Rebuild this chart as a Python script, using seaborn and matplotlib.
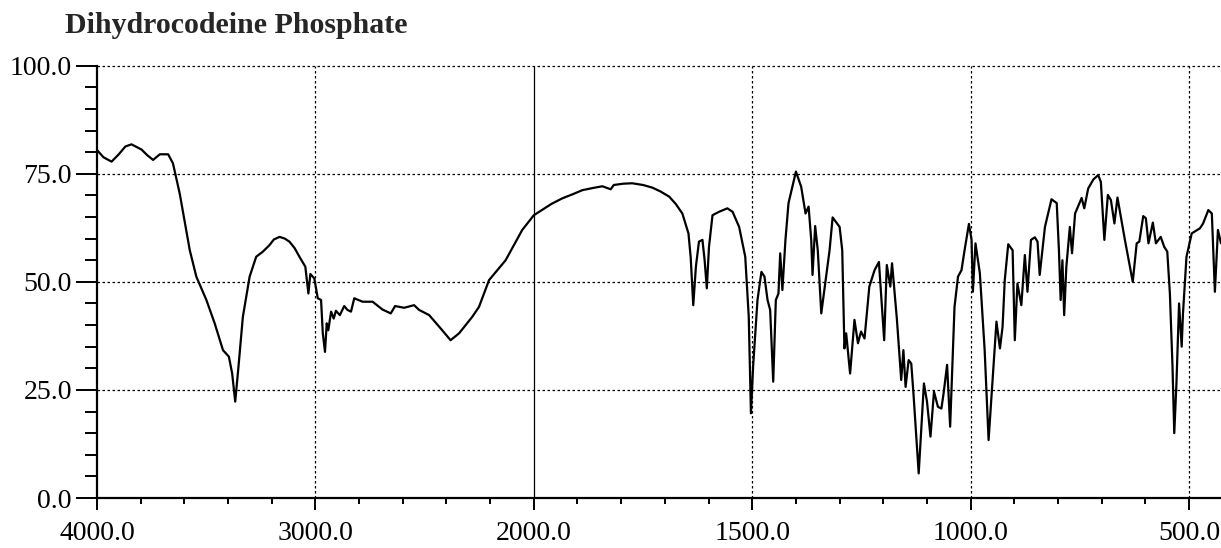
import numpy as np
import pandas as pd
import matplotlib
matplotlib.use('Agg')
import matplotlib.pyplot as plt
import seaborn as sns
from matplotlib.ticker import FixedLocator, FuncFormatter

# IR spectrum: wavenumber (cm-1) and transmittance (%)
wavenumber = [
    4000, 3970, 3933, 3900, 3870, 3842, 3796, 3770, 3743, 3712, 3674, 3652,
    3621, 3575, 3545, 3499, 3461, 3423, 3396, 3381, 3367, 3352, 3332, 3301,
    3271, 3240, 3210, 3190, 3164, 3140, 3119, 3095, 3073, 3046, 3032, 3023,
    3005, 2989, 2974, 2966, 2956, 2948, 2941, 2928, 2916, 2906, 2888, 2868,
    2853, 2837, 2822, 2784, 2738, 2693, 2655, 2635, 2594, 2548, 2525, 2479,
    2426, 2381, 2342, 2282, 2251, 2205, 2129, 2053, 2000, 1960, 1935, 1910,
    1889, 1865, 1843, 1824, 1817, 1795, 1775, 1750, 1729, 1710, 1690, 1675,
    1660, 1646, 1641, 1635, 1629, 1622, 1614, 1609, 1604, 1599, 1591, 1576,
    1557, 1545, 1530, 1516, 1508, 1503, 1498, 1488, 1479, 1472, 1465, 1459,
    1452, 1446, 1440, 1436, 1431, 1424, 1417, 1400, 1388, 1378, 1371, 1365,
    1362, 1356, 1350, 1342, 1335, 1323, 1316, 1300, 1294, 1289, 1285, 1276,
    1266, 1258, 1251, 1243, 1232, 1220, 1210, 1198, 1192, 1184, 1180, 1169,
    1159, 1154, 1149, 1142, 1136, 1131, 1119, 1107, 1100, 1092, 1084, 1075,
    1067, 1062, 1054, 1047, 1037, 1029, 1021, 1014, 1004, 998, 995, 989,
    979, 968, 959, 949, 941, 933, 927, 922, 914, 904, 899, 893,
    884, 876, 870, 862, 853, 847, 842, 830, 815, 803, 798, 794,
    790, 786, 781, 773, 768, 761, 746, 740, 731, 719, 708, 702,
    694, 686, 679, 671, 664, 647, 629, 620, 614, 605, 599, 593,
    583, 576, 565, 557, 550, 544, 538, 534, 529, 523, 517, 514,
    506, 494, 475, 468, 456, 448, 441, 434, 427,
]
transmittance = [
    80.5, 78.8, 77.8, 79.5, 81.3, 81.8, 80.6, 79.3, 78.2, 79.5, 79.5, 77.4,
    70.4, 57.3, 51.2, 45.8, 40.4, 34.2, 32.7, 28.8, 22.3, 30.4, 41.9, 51.2,
    55.8, 57.0, 58.5, 59.8, 60.4, 60.0, 59.3, 57.8, 55.8, 53.5, 47.3, 51.8,
    50.8, 46.2, 45.8, 38.1, 33.8, 40.4, 38.8, 43.1, 41.5, 43.3, 42.3, 44.4,
    43.5, 43.1, 46.2, 45.4, 45.4, 43.6, 42.7, 44.4, 44.0, 44.6, 43.5, 42.3,
    39.2, 36.5, 38.1, 41.9, 44.2, 50.4, 55.0, 62.0, 65.4, 68.0, 69.3, 70.3,
    71.2, 71.7, 72.1, 71.4, 72.4, 72.7, 72.8, 72.4, 71.8, 70.9, 69.7, 68.0,
    65.8, 61.2, 55.8, 44.6, 53.5, 59.3, 59.7, 55.0, 48.5, 58.1, 65.4, 66.2,
    67.0, 66.2, 62.7, 55.8, 41.9, 19.6, 30.4, 45.8, 52.3, 51.2, 45.8, 43.5,
    26.9, 45.8, 47.3, 56.6, 48.1, 59.7, 68.2, 75.5, 72.0, 65.8, 67.4, 59.7,
    51.6, 62.9, 57.3, 42.7, 48.1, 57.3, 64.9, 62.7, 57.3, 34.6, 38.1, 28.8,
    41.2, 35.8, 38.5, 36.9, 48.9, 52.7, 54.6, 36.5, 53.9, 48.9, 54.3, 41.5,
    27.3, 34.2, 25.7, 31.9, 31.1, 24.2, 5.7, 26.5, 22.3, 14.2, 24.6, 21.1,
    20.7, 24.2, 30.8, 16.5, 44.2, 51.2, 52.7, 57.3, 63.4, 59.7, 47.7, 58.9,
    52.0, 34.2, 13.4, 28.8, 40.8, 34.6, 39.6, 50.4, 58.7, 57.3, 36.5, 49.6,
    44.6, 56.2, 47.7, 59.7, 60.3, 59.3, 51.6, 62.7, 69.1, 68.2, 57.3, 45.8,
    55.0, 42.3, 53.5, 62.7, 56.6, 65.8, 69.4, 67.0, 71.6, 73.7, 74.7, 73.1,
    59.7, 70.1, 68.9, 63.5, 69.5, 59.7, 50.0, 58.9, 59.3, 65.2, 64.7, 58.9,
    63.7, 58.9, 60.4, 58.1, 57.0, 47.3, 30.4, 15.0, 26.5, 45.0, 35.0, 42.7,
    55.8, 61.2, 62.4, 63.5, 66.6, 65.8, 47.7, 62.0, 58.9,
]

x_major = [4000, 3000, 2000, 1500, 1000, 500]
y_major = [0, 25, 50, 75, 100]
title = 'Dihydrocodeine Phosphate'

df = pd.DataFrame({'wavenumber': wavenumber, 'transmittance': transmittance})

# the x scale doubles below 2000 cm-1
def fwd(w):
    w = np.asarray(w, dtype=float)
    return np.where(w >= 2000, w, 2 * w - 2000)

def inv(u):
    u = np.asarray(u, dtype=float)
    return np.where(u >= 2000, u, (u + 2000) / 2)

sns.set_style('white')
plt.rcParams['font.family'] = ['Liberation Serif', 'DejaVu Serif']

fig = plt.figure(figsize=(12.21, 5.48), dpi=100)
ax = fig.add_axes([0.0794, 0.0912, 0.9206, 0.789])

sns.lineplot(data=df, x='wavenumber', y='transmittance', ax=ax,
             color='black', linewidth=1.6, estimator=None, sort=False)

ax.set_xscale('function', functions=(fwd, inv))
ax.set_xlim(4000, 427)
ax.set_ylim(0, 100)

x_minor = list(range(4000, 2000, -200)) + list(range(2000, 427, -100))
ax.xaxis.set_major_locator(FixedLocator(x_major))
ax.xaxis.set_minor_locator(FixedLocator(x_minor))
ax.yaxis.set_major_locator(FixedLocator(y_major))
ax.yaxis.set_minor_locator(FixedLocator(list(range(0, 101, 5))))
fmt = FuncFormatter(lambda v, p: f'{v:.1f}')
ax.xaxis.set_major_formatter(fmt)
ax.yaxis.set_major_formatter(fmt)

ax.tick_params(axis='both', which='both', direction='out', color='black',
               width=1.4, labelsize=20, labelcolor='black')
ax.tick_params(axis='y', which='major', length=15, pad=3, left=True)
ax.tick_params(axis='y', which='minor', length=8.5, left=True)
ax.tick_params(axis='x', which='major', length=8.5, pad=8, bottom=True)
ax.tick_params(axis='x', which='minor', length=4.5, bottom=True)

for s in ['top', 'right']:
    ax.spines[s].set_visible(False)
for s in ['left', 'bottom']:
    ax.spines[s].set_color('black')
    ax.spines[s].set_linewidth(1.6)

dots = dict(color='black', linewidth=0.9, linestyle=(0, (2, 2)), zorder=0)
for yv in [25, 50, 75, 100]:
    ax.axhline(yv, clip_on=False, **dots)
for xv in [3000, 1500, 1000, 500]:
    ax.axvline(xv, **dots)
ax.axvline(2000, color='black', linewidth=0.9, zorder=0)

ax.set_xlabel('')
ax.set_ylabel('')

fig.text(0.053, 1 - 33 / 548, title, fontsize=21.5, fontweight='bold',
         ha='left', va='baseline')

fig.savefig('out.png', dpi=100)
